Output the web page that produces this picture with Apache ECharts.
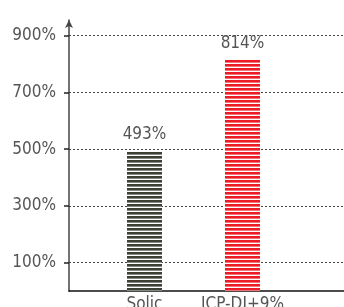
<!DOCTYPE html>
<html><head><meta charset="utf-8">
<script src="https://cdn.jsdelivr.net/npm/echarts@6/dist/echarts.min.js"></script>
<style>html,body{margin:0;padding:0;background:#fff}#c{width:344px;height:307px}</style>
</head><body><div id="c"></div>
<script>
var categories = ['Solic', 'ICP-DI+9%'];
var values = [493, 814];
var valueLabels = ['493%', '814%'];
var tickValues = [100, 300, 500, 700, 900];
var barColors = ['#3b4235', '#ec1c27'];

function stripe(color) {
  var c = document.createElement('canvas');
  c.width = 8; c.height = 4;
  var g = c.getContext('2d');
  g.fillStyle = '#ffffff'; g.fillRect(0, 0, 8, 4);
  g.fillStyle = color; g.fillRect(0, 0, 8, 2.6);
  return c;
}

var FONT = "'DejaVu Sans Condensed', 'Liberation Sans Narrow', sans-serif";
var FS = 17;
var chart = echarts.init(document.getElementById('c'), null, {renderer: 'canvas'});
var yMax = 955;
chart.setOption({
  animation: false,
  grid: [
    {left: 69, right: 0, top: 20, bottom: 16, outerBoundsMode: 'none', containLabel: false},
    {left: 95.5, right: 52.5, top: 20, bottom: 16, outerBoundsMode: 'none', containLabel: false}
  ],
  xAxis: [
    {gridIndex: 0, type: 'value', min: 0, max: 1, axisLine: {show: true, lineStyle: {color: '#111', width: 1.5}},
     axisTick: {show: false}, axisLabel: {show: false}, splitLine: {show: false}},
    {gridIndex: 1, type: 'category', data: categories,
     axisLine: {show: false}, axisTick: {show: false},
     axisLabel: {interval: 0, hideOverlap: false, color: '#555', fontFamily: FONT, fontSize: FS, margin: 5}}
  ],
  yAxis: [
    {gridIndex: 0, type: 'value', min: 0, max: yMax, interval: 100,
     axisLine: {show: true, symbol: ['none', 'arrow'], symbolSize: [6, 8], symbolOffset: [0, 0], lineStyle: {color: '#444', width: 1.5}},
     axisTick: {show: true, length: 5, customValues: tickValues, lineStyle: {color: '#222', width: 1.5}},
     axisLabel: {customValues: tickValues, color: '#555', fontFamily: FONT, fontSize: FS, margin: 13,
       formatter: function (v) { return v + '%'; }},
     splitLine: {show: true, lineStyle: {color: '#444', type: [2, 2], width: 1}}
    },
    {gridIndex: 1, type: 'value', min: 0, max: yMax, show: false, splitLine: {show: false}}
  ],
  series: [{
    type: 'bar', xAxisIndex: 1, yAxisIndex: 1, barWidth: 35,
    data: values.map(function (v, i) {
      return {value: v, itemStyle: {color: {image: stripe(barColors[i]), repeat: 'repeat'}},
        label: {formatter: valueLabels[i]}};
    }),
    label: {show: true, position: 'top', distance: 8, color: '#555', fontFamily: FONT, fontSize: FS}
  }]
});
</script></body></html>
